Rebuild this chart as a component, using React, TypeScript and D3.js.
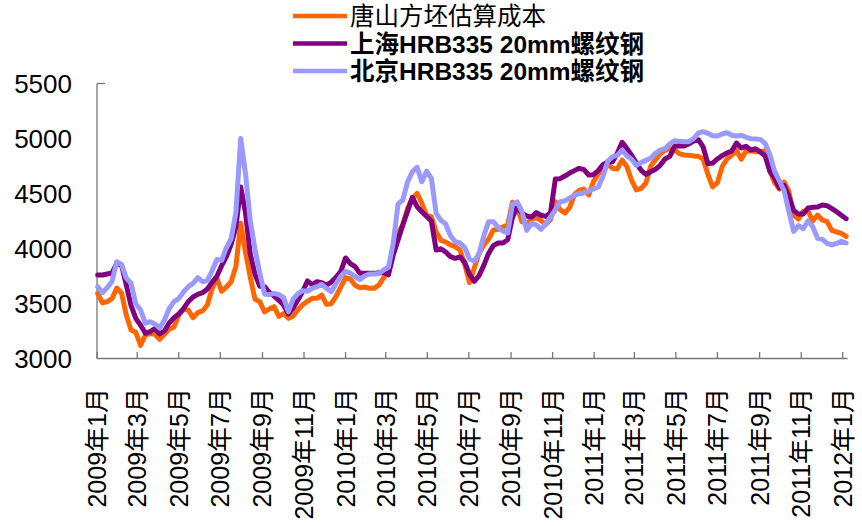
import React from "react";
import * as d3 from "d3";

const DATES = `
2009-01-02 2009-01-09 2009-01-16 2009-01-23 2009-01-30 2009-02-06 2009-02-13 2009-02-20 2009-02-27 2009-03-06
2009-03-13 2009-03-20 2009-03-27 2009-04-03 2009-04-10 2009-04-17 2009-04-24 2009-05-01 2009-05-08 2009-05-15
2009-05-22 2009-05-29 2009-06-05 2009-06-12 2009-06-19 2009-06-26 2009-07-03 2009-07-10 2009-07-17 2009-07-24
2009-07-31 2009-08-07 2009-08-14 2009-08-21 2009-08-28 2009-09-04 2009-09-11 2009-09-18 2009-09-25 2009-10-02
2009-10-09 2009-10-16 2009-10-23 2009-10-30 2009-11-06 2009-11-13 2009-11-20 2009-11-27 2009-12-04 2009-12-11
2009-12-18 2009-12-25 2010-01-01 2010-01-08 2010-01-15 2010-01-22 2010-01-29 2010-02-05 2010-02-12 2010-02-19
2010-02-26 2010-03-05 2010-03-12 2010-03-19 2010-03-26 2010-04-02 2010-04-09 2010-04-16 2010-04-23 2010-04-30
2010-05-07 2010-05-14 2010-05-21 2010-05-28 2010-06-04 2010-06-11 2010-06-18 2010-06-25 2010-07-02 2010-07-09
2010-07-16 2010-07-23 2010-07-30 2010-08-06 2010-08-13 2010-08-20 2010-08-27 2010-09-03 2010-09-10 2010-09-17
2010-09-24 2010-10-01 2010-10-08 2010-10-15 2010-10-22 2010-10-29 2010-11-05 2010-11-12 2010-11-19 2010-11-26
2010-12-03 2010-12-10 2010-12-17 2010-12-24 2010-12-31 2011-01-07 2011-01-14 2011-01-21 2011-01-28 2011-02-04
2011-02-11 2011-02-18 2011-02-25 2011-03-04 2011-03-11 2011-03-18 2011-03-25 2011-04-01 2011-04-08 2011-04-15
2011-04-22 2011-04-29 2011-05-06 2011-05-13 2011-05-20 2011-05-27 2011-06-03 2011-06-10 2011-06-17 2011-06-24
2011-07-01 2011-07-08 2011-07-15 2011-07-22 2011-07-29 2011-08-05 2011-08-12 2011-08-19 2011-08-26 2011-09-02
2011-09-09 2011-09-16 2011-09-23 2011-09-30 2011-10-07 2011-10-14 2011-10-21 2011-10-28 2011-11-04 2011-11-11
2011-11-18 2011-11-25 2011-12-02 2011-12-09 2011-12-16 2011-12-23 2011-12-30 2012-01-06
`.trim().split(/\s+/);

const TANGSHAN = [
  3592, 3505, 3517, 3544, 3640, 3595, 3395, 3259, 3238, 3120,
  3214, 3226, 3220, 3174, 3220, 3265, 3286, 3395, 3447, 3441,
  3371, 3417, 3432, 3486, 3635, 3732, 3611, 3650, 3698, 3838,
  4229, 3968, 3741, 3538, 3517, 3423, 3450, 3471, 3383, 3408,
  3365, 3386, 3444, 3489, 3520, 3547, 3547, 3577, 3492, 3498,
  3565, 3650, 3735, 3723, 3665, 3644, 3650, 3638, 3638, 3668,
  3735, 3789, 3968, 4141, 4217, 4365, 4453, 4501, 4411, 4300,
  4289, 4150, 4074, 4059, 4032, 4017, 3986, 3856, 3690, 3823,
  3956, 4029, 4086, 4168, 4174, 4195, 4214, 4420, 4374, 4244,
  4226, 4265, 4283, 4253, 4217, 4265, 4426, 4353, 4323, 4371,
  4489, 4529, 4541, 4486, 4608, 4677, 4732, 4765, 4729, 4723,
  4804, 4744, 4620, 4532, 4547, 4595, 4750, 4804, 4862, 4892,
  4907, 4898, 4862, 4850, 4847, 4841, 4838, 4814, 4674, 4560,
  4598, 4744, 4814, 4847, 4892, 4811, 4886, 4889, 4880, 4880,
  4889, 4707, 4598, 4541, 4604, 4517, 4302, 4268, 4338, 4341,
  4250, 4304, 4259, 4244, 4165, 4150, 4138, 4110,
];

const SHANGHAI = [
  3759, 3759, 3768, 3777, 3865, 3850, 3668, 3480, 3365, 3302,
  3229, 3244, 3271, 3223, 3250, 3323, 3371, 3405, 3453, 3517,
  3559, 3583, 3598, 3632, 3692, 3747, 3844, 3926, 4038, 4195,
  4560, 4326, 3953, 3765, 3656, 3653, 3602, 3568, 3529, 3486,
  3405, 3459, 3532, 3608, 3705, 3671, 3698, 3689, 3668, 3695,
  3738, 3792, 3914, 3862, 3835, 3774, 3774, 3774, 3774, 3780,
  3780, 3762, 3941, 4077, 4214, 4338, 4465, 4380, 4335, 4292,
  4250, 3986, 3998, 3968, 3926, 3911, 3923, 3874, 3765, 3702,
  3753, 3847, 3956, 4026, 4050, 4050, 4080, 4280, 4383, 4320,
  4296, 4286, 4326, 4302, 4292, 4326, 4632, 4635, 4659, 4686,
  4708, 4729, 4717, 4668, 4671, 4708, 4762, 4786, 4789, 4865,
  4965, 4911, 4847, 4774, 4711, 4674, 4698, 4720, 4756, 4814,
  4838, 4929, 4935, 4932, 4950, 4977, 4989, 4923, 4771, 4777,
  4814, 4844, 4868, 4886, 4959, 4914, 4929, 4895, 4907, 4877,
  4844, 4701, 4641, 4550, 4574, 4471, 4344, 4314, 4314, 4368,
  4374, 4377, 4395, 4389, 4362, 4335, 4302, 4271,
];

const BEIJING = [
  3653, 3598, 3644, 3701, 3880, 3856, 3729, 3686, 3495, 3441,
  3320, 3335, 3314, 3277, 3350, 3453, 3517, 3544, 3605, 3653,
  3683, 3735, 3698, 3708, 3798, 3900, 3892, 4007, 4089, 4329,
  5000, 4683, 4253, 3992, 3777, 3586, 3580, 3592, 3580, 3553,
  3426, 3540, 3589, 3617, 3611, 3638, 3653, 3674, 3638, 3608,
  3680, 3750, 3792, 3777, 3744, 3717, 3750, 3768, 3768, 3774,
  3805, 3829, 4047, 4404, 4441, 4604, 4698, 4738, 4608, 4704,
  4638, 4320, 4256, 4223, 4117, 4062, 4050, 4008, 3905, 3886,
  3950, 4117, 4244, 4244, 4192, 4159, 4141, 4400, 4423, 4335,
  4165, 4229, 4214, 4174, 4223, 4286, 4350, 4426, 4432, 4459,
  4483, 4498, 4505, 4523, 4541, 4559, 4656, 4795, 4835, 4847,
  4895, 4844, 4811, 4756, 4783, 4801, 4820, 4865, 4895, 4907,
  4950, 4980, 4974, 4971, 4971, 4998, 5050, 5062, 5047, 5026,
  5023, 5041, 5053, 5029, 5023, 5029, 5011, 4998, 4995, 4992,
  4956, 4853, 4701, 4614, 4523, 4335, 4156, 4208, 4180, 4250,
  4198, 4093, 4083, 4047, 4032, 4047, 4065, 4050,
];

const SERIES_NAMES = ["唐山方坯估算成本", "上海HRB335 20mm螺纹钢", "北京HRB335 20mm螺纹钢"];
const SERIES_COLORS = ["#FF6600", "#800080", "#9999FF"];
const Y_TICKS = [3000, 3500, 4000, 4500, 5000, 5500];
const X_TICKS = [
  "2009-01-01", "2009-03-01", "2009-05-01", "2009-07-01", "2009-09-01", "2009-11-01",
  "2010-01-01", "2010-03-01", "2010-05-01", "2010-07-01", "2010-09-01", "2010-11-01",
  "2011-01-01", "2011-03-01", "2011-05-01", "2011-07-01", "2011-09-01", "2011-11-01",
  "2012-01-01",
];
const X_DOMAIN = ["2009-01-01", "2012-01-08"];

const FONT = "'Liberation Sans', Arial, 'Noto Sans CJK SC', sans-serif";
const AXIS_COLOR = "#777777";

export default function App() {
  const parse = d3.timeParse("%Y-%m-%d");
  const dates = DATES.map((d) => parse(d) as Date);
  const x = d3
    .scaleTime()
    .domain(X_DOMAIN.map((d) => parse(d) as Date))
    .range([97, 847.5]);
  const y = d3.scaleLinear().domain([3000, 5500]).range([358.5, 83.5]);

  const series = [TANGSHAN, SHANGHAI, BEIJING];
  const line = d3
    .line<number>()
    .x((_, i) => x(dates[i]))
    .y((d) => y(d));

  const x0 = x.range()[0];
  const x1 = x.range()[1];
  const yBottom = y(3000);
  const yTop = y(5500);

  return (
    <svg
      width={862}
      height={526}
      style={{ position: "absolute", left: 0, top: 0, background: "#fff" }}
      fontFamily={FONT}
    >
      <rect x={0} y={0} width={862} height={526} fill="#fff" />

      {/* Legend */}
      {SERIES_NAMES.map((name, i) => {
        const ly = 16 + i * 27.5;
        return (
          <g key={name}>
            <line x1={293} x2={347} y1={ly} y2={ly} stroke={SERIES_COLORS[i]} strokeWidth={4.5} />
            <text
              x={350}
              y={ly + 9}
              fontSize={24.5}
              fontWeight={i === 0 ? "normal" : "bold"}
              fill="#000"
            >
              {name}
            </text>
          </g>
        );
      })}

      {/* Axes */}
      <line x1={x0} x2={x0} y1={yTop} y2={yBottom} stroke={AXIS_COLOR} strokeWidth={1.3} />
      <line x1={x0} x2={x0 + 8} y1={yTop} y2={yTop} stroke={AXIS_COLOR} strokeWidth={1.3} />
      <line x1={x0} x2={x1} y1={yBottom} y2={yBottom} stroke={AXIS_COLOR} strokeWidth={1.3} />
      {X_TICKS.map((t) => {
        const tx = x(parse(t) as Date);
        return <line key={t} x1={tx} x2={tx} y1={yBottom} y2={yBottom - 6.5} stroke={AXIS_COLOR} strokeWidth={1.3} />;
      })}

      {Y_TICKS.map((v) => (
        <text key={v} x={72} y={y(v)} dy="0.36em" textAnchor="end" fontSize={26} fill="#000">
          {v}
        </text>
      ))}

      {X_TICKS.map((t) => {
        const d = parse(t) as Date;
        const tx = x(d);
        const label = `${d.getFullYear()}年${d.getMonth() + 1}月`;
        return (
          <text
            key={t}
            transform={`translate(${tx},388) rotate(-90)`}
            textAnchor="end"
            dy="0.36em"
            fontSize={25}
            fill="#000"
          >
            {label}
          </text>
        );
      })}

      {/* Series */}
      {series.map((vals, i) => (
        <path
          key={i}
          d={line(vals) || ""}
          fill="none"
          stroke={SERIES_COLORS[i]}
          strokeWidth={5}
          strokeLinejoin="round"
          strokeLinecap="round"
        />
      ))}
    </svg>
  );
}
